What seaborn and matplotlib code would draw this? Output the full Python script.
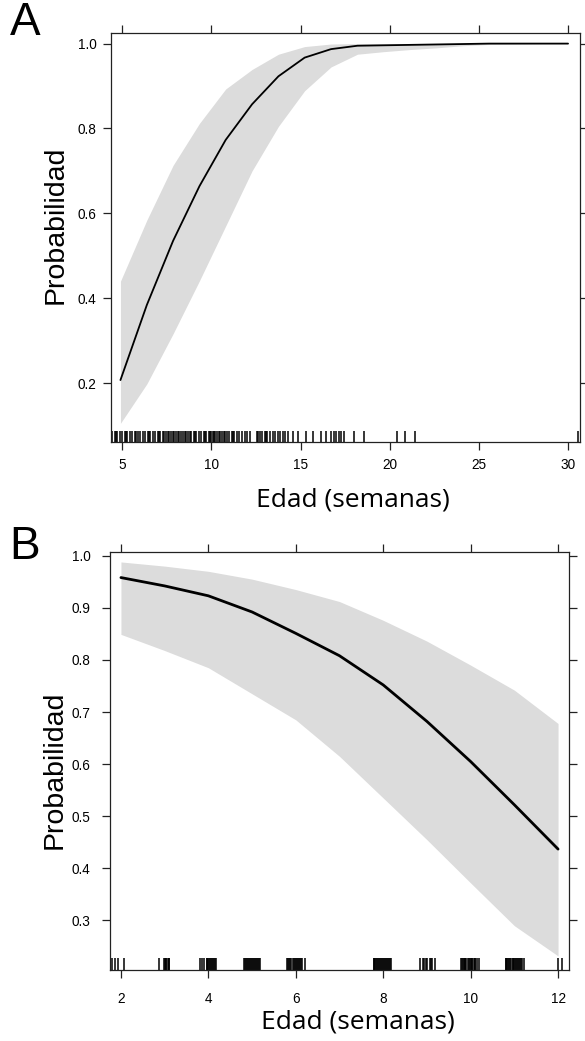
import matplotlib
matplotlib.use("Agg")
import matplotlib.pyplot as plt
import seaborn as sns
import pandas as pd

# ---- Panel A: probability vs age in weeks ----
edad_a = [4.90, 6.38, 7.85, 9.33, 10.80, 12.28, 13.76, 15.23, 16.71, 18.19,
          19.66, 21.14, 22.62, 24.10, 25.57, 27.05, 28.52, 30.00]
prob_a = [0.207, 0.384, 0.535, 0.664, 0.773, 0.857, 0.923, 0.967, 0.987, 0.995,
          0.996, 0.997, 0.998, 0.999, 1.000, 1.000, 1.000, 1.000]
inf_a = [0.105, 0.198, 0.316, 0.441, 0.570, 0.700, 0.805, 0.889, 0.945, 0.975,
         0.981, 0.986, 0.990, 0.995, 0.998, 0.999, 1.000, 1.000]
sup_a = [0.440, 0.584, 0.713, 0.812, 0.893, 0.939, 0.975, 0.993, 0.999, 1.000,
         1.000, 1.000, 1.000, 1.000, 1.000, 1.000, 1.000, 1.000]
rug_a = [4.43, 4.57, 4.64, 4.71, 4.86, 5.00, 5.14, 5.21, 5.29, 5.43, 5.57, 5.71,
         5.79, 5.86, 6.00, 6.14, 6.29, 6.43, 6.50, 6.57, 6.71, 6.86, 7.00, 7.07,
         7.14, 7.29, 7.36, 7.43, 7.57, 7.64, 7.71, 7.86, 7.93, 8.00, 8.14, 8.21,
         8.29, 8.43, 8.50, 8.57, 8.71, 8.79, 8.86, 9.00, 9.07, 9.14, 9.29, 9.43,
         9.57, 9.64, 9.71, 9.86, 9.93, 10.00, 10.07, 10.14, 10.21, 10.29, 10.43,
         10.50, 10.57, 10.71, 10.79, 10.86, 11.00, 11.14, 11.21, 11.29, 11.43,
         11.57, 11.71, 11.86, 12.00, 12.14, 12.57, 12.64, 12.71, 12.86, 13.00,
         13.07, 13.14, 13.29, 13.43, 13.57, 13.71, 13.86, 14.00, 14.14, 14.29,
         14.57, 14.86, 15.29, 15.71, 16.14, 16.43, 16.71, 16.86, 17.00, 17.14,
         17.29, 17.43, 18.00, 18.57, 20.43, 20.86, 21.43, 30.57]
xticks_a = [5, 10, 15, 20, 25, 30]
xlabels_a = ["5", "10", "15", "20", "25", "30"]
yticks_a = [0.2, 0.4, 0.6, 0.8, 1.0]
ylabels_a = ["0.2", "0.4", "0.6", "0.8", "1.0"]

# ---- Panel B ----
edad_b = [2, 3, 4, 5, 6, 7, 8, 9, 10, 11, 12]
prob_b = [0.958, 0.942, 0.923, 0.892, 0.851, 0.808, 0.752, 0.682, 0.605, 0.522, 0.437]
inf_b = [0.849, 0.818, 0.785, 0.735, 0.685, 0.615, 0.535, 0.455, 0.372, 0.290, 0.232]
sup_b = [0.988, 0.980, 0.970, 0.955, 0.935, 0.912, 0.876, 0.836, 0.790, 0.742, 0.678]
rug_b = [1.79, 1.86, 1.93, 2.07,
         2.86, 2.98, 3.00, 3.02, 3.04, 3.07, 3.09, 3.11,
         3.80, 3.86, 3.90, 3.96, 3.98, 4.00, 4.02, 4.04, 4.07, 4.09, 4.11, 4.14, 4.16, 4.18,
         4.82, 4.84, 4.86, 4.88, 4.90, 4.93, 4.96, 4.98, 5.00, 5.02, 5.04, 5.07,
         5.09, 5.11, 5.14, 5.16, 5.18,
         5.80, 5.82, 5.84, 5.86, 5.90, 5.93, 5.96, 5.98, 6.00, 6.02, 6.04, 6.07,
         6.09, 6.11, 6.14, 6.20,
         7.78, 7.80, 7.82, 7.84, 7.86, 7.88, 7.90, 7.93, 7.96, 7.98, 8.00, 8.02,
         8.04, 8.07, 8.09, 8.11, 8.14, 8.16, 8.18,
         8.85, 8.90, 8.93, 8.98, 9.00, 9.07, 9.09, 9.11, 9.18,
         9.78, 9.80, 9.82, 9.84, 9.86, 9.88, 9.90, 9.93, 9.96, 9.98, 10.00, 10.02,
         10.04, 10.07, 10.09, 10.11, 10.14, 10.18,
         10.80, 10.82, 10.84, 10.86, 10.88, 10.90, 10.93, 10.96, 10.98, 11.00,
         11.02, 11.04, 11.07, 11.09, 11.11, 11.14, 11.16, 11.18, 11.21,
         12.00, 12.08]
xticks_b = [2, 4, 6, 8, 10, 12]
xlabels_b = ["2", "4", "6", "8", "10", "12"]
yticks_b = [0.3, 0.4, 0.5, 0.6, 0.7, 0.8, 0.9, 1.0]
ylabels_b = ["0.3", "0.4", "0.5", "0.6", "0.7", "0.8", "0.9", "1.0"]

sns.set_style("ticks")
plt.rcParams["font.family"] = ["Liberation Sans", "DejaVu Sans"]
plt.rcParams["text.color"] = "black"
plt.rcParams["axes.labelcolor"] = "black"

BAND = "#dcdcdc"
FRAME = "#222222"

fig = plt.figure(figsize=(5.85, 10.41), dpi=100)
ax_a = fig.add_axes([111 / 585, 1 - 442 / 1041, 469 / 585, 409 / 1041])
ax_b = fig.add_axes([110 / 585, 1 - 970 / 1041, 459 / 585, 417.7 / 1041])


def panel(ax, x, y, lo, hi, rug, lw, rug_h):
    df = pd.DataFrame({"edad": x, "prob": y, "inf": lo, "sup": hi})
    ax.fill_between(df["edad"], df["inf"], df["sup"], color=BAND, linewidth=0)
    sns.lineplot(data=df, x="edad", y="prob", ax=ax, color="black",
                 linewidth=lw, estimator=None, sort=True)
    sns.rugplot(x=rug, ax=ax, height=rug_h, color="black", linewidth=1.1,
                expand_margins=False)


def frame(ax, xlim, ylim, xt, xl, yt, yl, xpad, ypad):
    ax.set_xlim(*xlim)
    ax.set_ylim(*ylim)
    ax.set_xticks(xt)
    ax.set_xticklabels(xl)
    ax.set_yticks(yt)
    ax.set_yticklabels(yl)
    for s in ax.spines.values():
        s.set_visible(True)
        s.set_linewidth(0.9)
        s.set_color(FRAME)
    ax.tick_params(direction="out", length=6.0, width=0.9, color=FRAME,
                   top=True, right=True, labeltop=False, labelright=False,
                   labelsize=9.8, labelcolor="black")
    ax.tick_params(axis="x", pad=xpad)
    ax.tick_params(axis="y", pad=ypad)


panel(ax_a, edad_a, prob_a, inf_a, sup_a, rug_a, 1.3, 0.027)
frame(ax_a, (4.37, 30.67), (0.061, 1.025), xticks_a, xlabels_a,
      yticks_a, ylabels_a, 5.4, 4.3)

panel(ax_b, edad_b, prob_b, inf_b, sup_b, rug_b, 2.0, 0.029)
frame(ax_b, (1.75, 12.25), (0.205, 1.0065), xticks_b, xlabels_b,
      yticks_b, ylabels_b, 9.7, 8.0)

for ax, xl_pos, yl_pos in [(ax_a, (0.516, -0.142), (-0.119, 0.53)),
                           (ax_b, (0.54, -0.1245), (-0.12, 0.479))]:
    ax.set_xlabel("Edad (semanas)", fontsize=19, family=["Open Sans", "DejaVu Sans"],
                  va="center", ha="center", color="black")
    ax.xaxis.set_label_coords(*xl_pos)
    ax.set_ylabel("Probabilidad", fontsize=20.5, va="center", ha="center",
                  color="black")
    ax.yaxis.set_label_coords(*yl_pos)

fig.text(25 / 585, 1 - 23 / 1041, "A", fontsize=33, ha="center", va="center",
         color="black")
fig.text(25 / 585, 1 - 547 / 1041, "B", fontsize=33, ha="center", va="center",
         color="black")

fig.savefig("out.png", dpi=100)
